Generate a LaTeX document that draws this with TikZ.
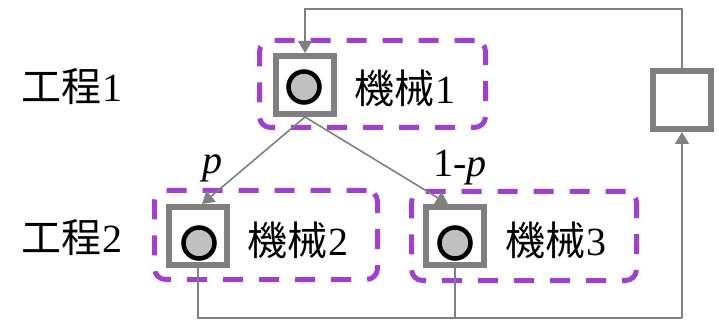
\documentclass[tikz,border=0pt]{standalone}
\usepackage{fontspec}
\setmainfont{Liberation Serif}
\newfontfamily\cjk{Noto Sans CJK JP}
\usetikzlibrary{arrows.meta,calc}
\definecolor{grp}{HTML}{A040D0}
\definecolor{ln}{HTML}{808080}
\definecolor{cf}{HTML}{C0C0C0}
\tikzset{
  grpbox/.style={draw=grp, line width=5pt, dash pattern=on 20pt off 16pt, rounded corners=11pt, minimum height=87pt},
  msq/.style={draw=ln, line width=6pt, fill=white, minimum size=58pt, inner sep=0pt},
  mdot/.style={circle, draw=black, line width=4.5pt, fill=cf, minimum size=31pt, inner sep=0pt},
  conn/.style={draw=ln, line width=1.6pt},
  arr/.style={conn, -{Triangle[length=12pt,width=14pt]}},
  lbl/.style={inner sep=0pt, font=\fontsize{40}{42}\selectfont},
}
\begin{document}
\begin{tikzpicture}[x=1pt,y=-1pt]
\useasboundingbox (0,0) rectangle (719,320);
% groups
\node[grpbox, minimum width=226pt] (g1) at (372.5,84) {};
\node[grpbox, minimum width=223pt, minimum height=89pt] (g2) at (266,235) {};
\node[grpbox, minimum width=225pt, minimum height=89pt] (g3) at (524,236) {};
% machines
\node[msq] (m1) at (305,85) {};
\node[mdot] (c1) at (304,87) {};
\node[msq] (m2) at (198,236) {};
\node[mdot] (c2) at (199,243) {};
\node[msq] (m3) at (455,236) {};
\node[mdot] (c3) at (455,243) {};
\node[msq] (r) at (682,100) {};
% texts
\node[lbl, anchor=west] (t1) at (354,88) {{\cjk 機械}\kern1pt 1};
\node[lbl, anchor=west] (t2) at (247,240) {{\cjk 機械}\kern1pt 2};
\node[lbl, anchor=west] (t3) at (505,240) {{\cjk 機械}\kern1pt 3};
\node[lbl, anchor=west] (s1) at (21,87) {{\cjk 工程}\kern1pt 1};
\node[lbl, anchor=west] (s2) at (21,238) {{\cjk 工程}\kern1pt 2};
\node[lbl] (p) at (212,168) {\itshape p};
\node[lbl, anchor=west] (q) at (433,168) {1-\textit{p}};
% connectors
\draw[arr] (m1.south) -- ([xshift=4pt]m2.north);
\draw[arr] (m1.south) -- ([xshift=-7pt]m3.north);
\coordinate (tr) at (682,9);
\coordinate (bl) at (682,318);
\draw[arr] (r.north) -- (tr) -| (m1.north);
\draw[conn] (m2.south) |- (bl);
\draw[conn] (m3.south) -- (m3.south |- bl);
\draw[arr] (bl) -- (r.south);
\end{tikzpicture}
\end{document}
